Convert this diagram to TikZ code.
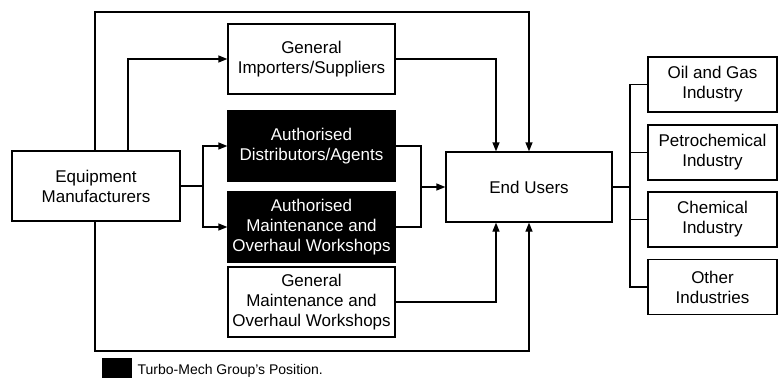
\documentclass[tikz,border=0pt]{standalone}
\usepackage{fontspec}
\setmainfont{Liberation Sans}
\usetikzlibrary{arrows.meta}
\begin{document}
\begin{tikzpicture}[x=1pt,y=-1pt,
  line width=1.3pt,
  box/.style={draw,rectangle,inner sep=0pt,align=center,
    font=\fontsize{17}{20}\selectfont},
  mainbox/.style={box,minimum width=167pt,minimum height=70pt},
  tagbox/.style={mainbox,fill=black,text=white},
  indbox/.style={box,minimum width=129pt,minimum height=55pt},
  arr/.style={-{Triangle[length=9pt,width=7pt]}},
]
\useasboundingbox (0,0) rectangle (778,378);

% boxes
\node[box,minimum width=168pt,minimum height=70pt] (equip) at (96,186) {Equipment\\Manufacturers};
\node[mainbox] (imp) at (311.5,59) {General\\Importers/Suppliers};
\node[tagbox] (dist) at (311.5,146) {Authorised\\Distributors/Agents};
\node[tagbox] (amaint) at (311.5,227) {Authorised\\Maintenance and\\Overhaul Workshops};
\node[mainbox] (gmaint) at (311.5,302) {General\\Maintenance and\\Overhaul Workshops};
\node[mainbox,minimum width=166pt] (end) at (529,187) {End Users};

\node[indbox] (oil) at (712.5,84.5) {Oil and Gas\\Industry};
\node[indbox] (petro) at (712.5,152.5) {Petrochemical\\Industry};
\node[indbox] (chem) at (712.5,219.5) {Chemical\\Industry};
\node[indbox] (other) at (712.5,287) {Other\\Industries};

% manufacturers -> channels
\draw[arr] ([xshift=-1pt]equip.north) -- ([xshift=-1pt]equip.north |- 0,12) -| (end.north);
\draw[arr] ([xshift=32pt]equip.north) |- (imp.west);
\draw (equip.east) -- (203,186) coordinate (split);
\draw[arr] (split) |- (dist.west);
\draw[arr] (split) |- (amaint.west);
\draw[arr] ([xshift=-1pt]equip.south) -- ([xshift=-1pt]equip.south |- 0,351) -| (end.south);

% channels -> end users
\draw[arr] (imp.east) -| ([xshift=-33pt]end.north);
\draw (dist.east) -| (421,187) coordinate (merge);
\draw (amaint.east) -| (merge);
\draw[arr] (merge) -- (end.west);
\draw[arr] (gmaint.east) -| ([xshift=-33pt]end.south);

% end users -> industries
\draw (end.east) -- (630,187);
\draw (oil.west) -| (630,287) -- (other.west);
\draw (petro.west) -- (630,152.5);
\draw (chem.west) -- (630,219.5);

% legend
\fill (102,358) rectangle (132,378);
\node[anchor=west,inner sep=0pt,font=\fontsize{14}{16}\selectfont] (legend) at (137,371) {Turbo-Mech Group’s Position.};
\end{tikzpicture}
\end{document}
